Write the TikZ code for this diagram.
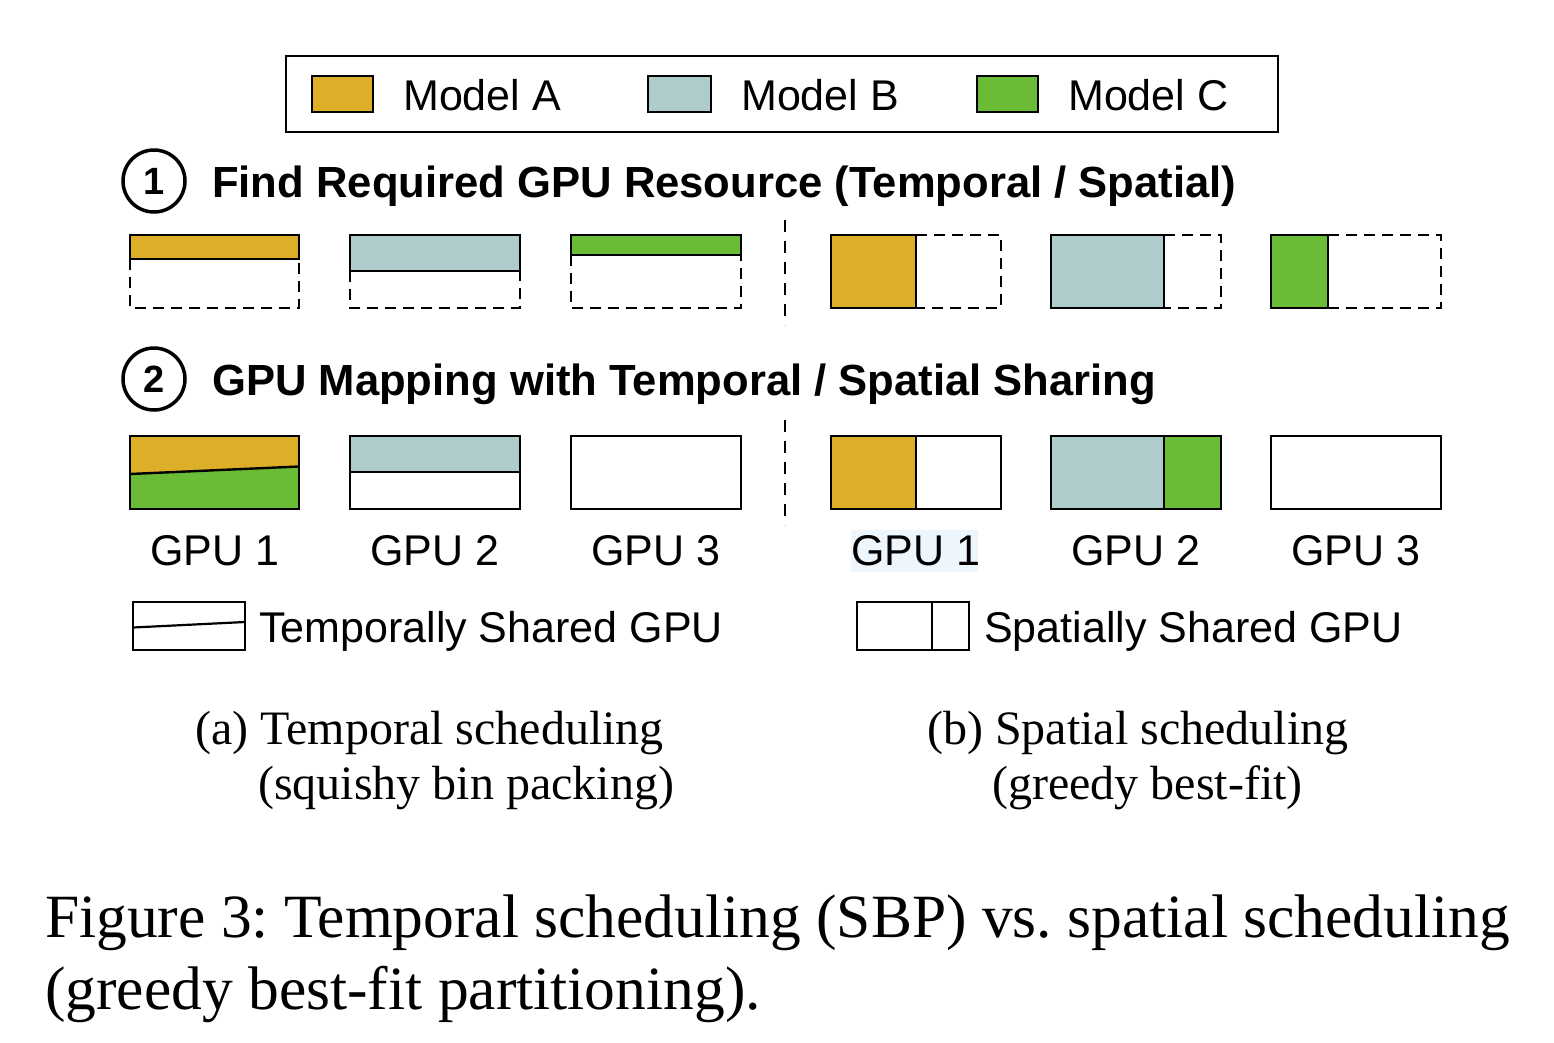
\documentclass[tikz,border=0pt]{standalone}
\usepackage{fontspec}
\setmainfont{Liberation Serif}
\setsansfont{Liberation Sans}
\frenchspacing
\definecolor{modelA}{RGB}{221,174,39}
\definecolor{modelB}{RGB}{175,204,204}
\definecolor{modelC}{RGB}{106,188,54}
\definecolor{hilite}{RGB}{238,246,253}

\begin{document}
\begin{tikzpicture}[x=1pt,y=-1pt,
    box/.style={draw,line width=2.4pt},
    free/.style={draw,line width=2.4pt,dash pattern=on 11pt off 7pt},
    sep/.style={draw,line width=2.4pt,dash pattern=on 12pt off 9pt},
    lbl/.style={font=\fontsize{43}{50}\selectfont\sffamily,inner sep=0pt},
    head/.style={font=\fontsize{43.6}{50}\selectfont\sffamily\bfseries,inner sep=0pt,anchor=base west},
    stepno/.style={circle,draw,line width=3.5pt,minimum size=62pt,inner sep=0pt,font=\fontsize{38}{46}\selectfont\sffamily\bfseries},
    subcap/.style={font=\fontsize{48}{56}\selectfont,inner sep=0pt,anchor=base west},
    figcap/.style={font=\fontsize{61.5}{72}\selectfont,inner sep=0pt,anchor=base west}]

\useasboundingbox (0,0) rectangle (1554,1042);

% legend
\draw[line width=2.2pt] (286,56) rectangle (1278,132);
\draw[box,fill=modelA] (312,76) rectangle (373,112);
\node[lbl,anchor=base west] (legA) at (403,110) {Model A};
\draw[box,fill=modelB] (648,76) rectangle (711,112);
\node[lbl,anchor=base west] (legB) at (741,110) {Model B};
\draw[box,fill=modelC] (977,76) rectangle (1038,112);
\node[lbl,anchor=base west] (legC) at (1068,110) {Model C};

% step 1
\node[stepno] (s1) at (154,181) {1};
\node[head] (h1) at (212,197) {Find Required GPU Resource (Temporal / Spatial)};

% step 1: temporal demand
\draw[free] (130,259) -- (130,308) -- (299,308) -- (299,259);
\draw[box,fill=modelA] (130,235) rectangle (299,259);
\draw[free] (350,271) -- (350,308) -- (520,308) -- (520,271);
\draw[box,fill=modelB] (350,235) rectangle (520,271);
\draw[free] (571,255) -- (571,308) -- (741,308) -- (741,255);
\draw[box,fill=modelC] (571,235) rectangle (741,255);

\draw[sep] (785,220) -- (785,325);

% step 1: spatial demand
\draw[free] (916,235) -- (1001,235) -- (1001,308) -- (916,308);
\draw[box,fill=modelA] (831,235) rectangle (916,308);
\draw[free] (1164,235) -- (1221,235) -- (1221,308) -- (1164,308);
\draw[box,fill=modelB] (1051,235) rectangle (1164,308);
\draw[free] (1328,235) -- (1441,235) -- (1441,308) -- (1328,308);
\draw[box,fill=modelC] (1271,235) rectangle (1328,308);

% step 2
\node[stepno] (s2) at (154,379) {2};
\node[head] (h2) at (212,395) {GPU Mapping with Temporal / Spatial Sharing};

% step 2: temporal mapping
\fill[modelA] (130,436) -- (299,436) -- (299,466.5) -- (130,474) -- cycle;
\fill[modelC] (130,474) -- (299,466.5) -- (299,509) -- (130,509) -- cycle;
\draw[line width=2.4pt] (130,474) -- (299,466.5);
\draw[box] (130,436) rectangle (299,509);
\fill[modelB] (350,436) rectangle (520,472);
\draw[line width=2.4pt] (350,472) -- (520,472);
\draw[box] (350,436) rectangle (520,509);
\draw[box] (571,436) rectangle (741,509);

\draw[sep] (785,420) -- (785,525);

% step 2: spatial mapping
\fill[modelA] (831,436) rectangle (916,509);
\draw[line width=2.4pt] (916,436) -- (916,509);
\draw[box] (831,436) rectangle (1001,509);
\fill[modelB] (1051,436) rectangle (1164,509);
\fill[modelC] (1164,436) rectangle (1221,509);
\draw[line width=2.4pt] (1164,436) -- (1164,509);
\draw[box] (1051,436) rectangle (1221,509);
\draw[box] (1271,436) rectangle (1441,509);

% gpu names
\fill[hilite] (851,530) rectangle (978,572);
\node[lbl,anchor=base] (ta1) at (215,565) {GPU 1};
\node[lbl,anchor=base] (ta2) at (435,565) {GPU 2};
\node[lbl,anchor=base] (ta3) at (656,565) {GPU 3};
\node[lbl,anchor=base] (sb1) at (916,565) {GPU 1};
\node[lbl,anchor=base] (sb2) at (1136,565) {GPU 2};
\node[lbl,anchor=base] (sb3) at (1356,565) {GPU 3};

% sharing legend
\draw[box] (133,602) rectangle (245,650);
\draw[line width=2.2pt] (133,627.5) -- (245,622);
\node[lbl,anchor=base west] (tshared) at (259,642) {Temporally Shared GPU};
\draw[box] (857,602) rectangle (969,650);
\draw[line width=2.2pt] (932,602) -- (932,650);
\node[lbl,anchor=base west] (sshared) at (984,642) {Spatially Shared GPU};

% subcaptions
\node[subcap] (capa) at (195,744) {(a) Temporal scheduling};
\node[subcap] (capa2) at (258,799) {(squishy bin packing)};
\node[subcap] (capb) at (927,744) {(b) Spatial scheduling};
\node[subcap] (capb2) at (992,799) {(greedy best-fit)};

% figure caption
\node[figcap] (fig1) at (45,937) {Figure 3: Temporal scheduling (SBP) vs. spatial scheduling};
\node[figcap] (fig2) at (45,1009) {(greedy best-fit partitioning).};

\end{tikzpicture}
\end{document}
